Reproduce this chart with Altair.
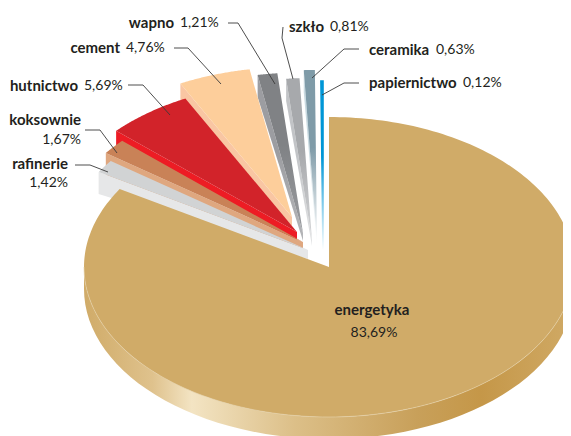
import math
import altair as alt
import pandas as pd

# ---- chart values ----
names = ["energetyka", "rafinerie", "koksownie", "hutnictwo", "cement", "wapno", "szkło", "ceramika", "papiernictwo"]
shares = [83.69, 1.42, 1.67, 5.69, 4.76, 1.21, 0.81, 0.63, 0.12]
share_labels = ["83,69%", "1,42%", "1,67%", "5,69%", "4,76%", "1,21%", "0,81%", "0,63%", "0,12%"]

# ---- styles / layout ----
top_colors = ["#D0AB68", "#D1D3D4", "#C98257", "#D2232A", "#FDCE9B", "#808285", "#A7A9AC", "#7F9BA8", "#0096D6"]
side_colors = ["#D0AB68", "#E6E7E8", "#DFA77F", "#ED1C24", "#F9C6A3", "#9C9DA1", "#C2C4C7", "#C9DAE1", "#0096D6"]
top_tip_colors = [None, None, None, None, None, "#9A9CA0", "#D5D6D8", "#FFFFFF", "#FFFFFF"]
side_tip_colors = [None, None, None, None, None, "#B5B6B9", "#E4E5E6", "#FFFFFF", "#FFFFFF"]
apex_x = [329, 308, 303, 297, 292, 303, 312, 317, 323]
apex_y = [267, 250, 242, 232, 217, 233, 240, 242, 250]
radius_scale = [1.0, 1.0, 1.0, 1.0, 1.0, 1.07, 1.08, 1.147, 1.127]
side_tip_depth = [0, 9, 7, 8, 9, 8, 6, 4, 4]
outline_width = [0, 0, 0, 0, 0, 0, 0, 0, 1.6]
RX, RY, DEPTH = 245.0, 150.0, 22.0
W, H = 555, 428
ORIGIN = 8


def px(x, y):
    return [x - ORIGIN, y - ORIGIN]


def arc_pts(cx, cy, rs, a0, a1, n=60, dy=0.0):
    out = []
    for i in range(n + 1):
        a = math.radians(a0 + (a1 - a0) * i / n)
        out.append((cx + RX * rs * math.sin(a), cy - RY * rs * math.cos(a) + dy))
    return out


def feature(pts):
    ring = [px(*p) for p in pts]
    ring.append(ring[0])
    return {"type": "Feature", "properties": {}, "geometry": {"type": "Polygon", "coordinates": [ring]}}


def shape(pts, fill, outline=0):
    if outline:
        mark = alt.Chart(alt.Data(values=[feature(pts)])).mark_geoshape(
            fill=fill, stroke=fill, strokeWidth=outline, clip=True)
    else:
        mark = alt.Chart(alt.Data(values=[feature(pts)])).mark_geoshape(
            fill=fill, strokeWidth=0, clip=True)
    return mark.project(type="identity", scale=1, translate=[0, 0])


def hairline(pts, color, width):
    geo = {"type": "Feature", "properties": {},
           "geometry": {"type": "LineString", "coordinates": [px(*p) for p in pts]}}
    return alt.Chart(alt.Data(values=[geo])).mark_geoshape(
        filled=False, stroke=color, strokeWidth=width, clip=True
    ).project(type="identity", scale=1, translate=[0, 0])


def fade(color, tip):
    if tip is None:
        return color
    return alt.LinearGradient(gradient="linear", x1=0, x2=0, y1=0, y2=1, stops=[
        alt.GradientStop(color=color, offset=0),
        alt.GradientStop(color=color, offset=0.45),
        alt.GradientStop(color=tip, offset=1),
    ])


layers = []
start = 0.0
spans = []
for s in shares:
    spans.append((start, start + s * 3.6))
    start += s * 3.6

# small slices, back to front
for i in range(len(names) - 1, 0, -1):
    a0, a1 = spans[i]
    ax, ay, rs = apex_x[i], apex_y[i], radius_scale[i]
    cl = arc_pts(ax, ay, rs, a0, a0, n=1)[0]
    if not outline_width[i]:
        side = [cl, (ax, ay), (ax, ay + side_tip_depth[i]), (cl[0], cl[1] + DEPTH)]
        layers.append(shape(side, fade(side_colors[i], side_tip_colors[i])))
    layers.append(shape([(ax, ay)] + arc_pts(ax, ay, rs, a0, a1), fade(top_colors[i], top_tip_colors[i]), outline_width[i]))

# energetyka rim and top face
rim = arc_pts(apex_x[0], apex_y[0], 1, 90, 270) + arc_pts(apex_x[0], apex_y[0], 1, 270, 90, dy=DEPTH)
rim_fill = alt.LinearGradient(gradient="linear", x1=0, x2=1, y1=0, y2=0, stops=[
    alt.GradientStop(color="#D0AB68", offset=0),
    alt.GradientStop(color="#DFC28D", offset=0.14),
    alt.GradientStop(color="#F3E4C3", offset=0.22),
    alt.GradientStop(color="#DCBF88", offset=0.43),
    alt.GradientStop(color="#C8A05A", offset=0.68),
    alt.GradientStop(color="#C59748", offset=0.81),
    alt.GradientStop(color="#D0AA66", offset=1),
])
layers.append(shape(rim, rim_fill))
layers.append(shape([(apex_x[0], apex_y[0])] + arc_pts(apex_x[0], apex_y[0], 1, spans[0][0], spans[0][1], n=240), top_colors[0]))
layers.append(hairline(arc_pts(apex_x[0], apex_y[0], 1, 90, 270, n=120), "#E6D3AC", 0.6))

# ---- leader lines ----
leaders = [
    [(228, 23), (238, 23), (275, 84)],
    [(283, 27), (282, 38), (293, 79)],
    [(359, 49), (344, 49), (312, 78)],
    [(359, 83), (344, 83), (322, 95)],
    [(174, 48), (188, 48), (221, 84)],
    [(128, 85), (143, 85), (170, 115)],
    [(85, 130), (100, 130), (117, 153)],
    [(75, 165), (90, 165), (108, 172)],
]
rows = []
for k, line in enumerate(leaders):
    for j, (x, y) in enumerate(line):
        rows.append({"k": k, "j": j, "x": x - ORIGIN, "y": y - ORIGIN})
xs = alt.Scale(domain=[0, W], range=[0, W])
ys = alt.Scale(domain=[0, H], range=[0, H])
lines = alt.Chart(pd.DataFrame(rows)).mark_line(color="#3a3a3a", strokeWidth=0.9).encode(
    x=alt.X("x:Q", scale=xs, axis=None),
    y=alt.Y("y:Q", scale=ys, axis=None),
    detail="k:N", order="j:Q")

# ---- labels ----
FONT = "Lato"
COL = "#231F20"
bold_rows = []
reg_rows = []


def add(i, x_name, y_name, x_val, y_val, align_name="left", align_val="left"):
    bold_rows.append({"t": names[i], "x": x_name - ORIGIN, "y": y_name - ORIGIN, "a": align_name})
    reg_rows.append({"t": share_labels[i], "x": x_val - ORIGIN, "y": y_val - ORIGIN, "a": align_val})


add(5, 174, 23, 180, 23, "right", "left")
add(6, 289, 27, 330, 27)
add(7, 369, 50, 436, 50)
add(8, 369, 83, 463, 83)
add(4, 120, 48, 126, 48, "right", "left")
add(3, 78, 86, 84, 86, "right", "left")
add(2, 81, 120, 81, 140, "right", "right")
add(1, 68, 164, 68, 183, "right", "right")
add(0, 372, 310, 374, 333, "center", "center")


def text_layer(rows_, weight, size):
    out = []
    for a in ("left", "right", "center"):
        sub = [r for r in rows_ if r["a"] == a]
        if sub:
            out.append(alt.Chart(pd.DataFrame(sub)).mark_text(
                font=FONT, fontSize=size, fontWeight=weight, color=COL, align=a, baseline="middle"
            ).encode(x=alt.X("x:Q", scale=xs, axis=None), y=alt.Y("y:Q", scale=ys, axis=None), text="t:N"))
    return out


chart = alt.layer(*layers, lines, *text_layer(bold_rows, "bold", 15), *text_layer(reg_rows, "normal", 14)).resolve_scale(
    x="shared", y="shared"
).properties(
    width=W, height=H, padding=0, background="white",
    autosize=alt.AutoSizeParams(type="none")
).configure_view(stroke=None)

chart.save("out.html", embed_options={"renderer": "svg", "actions": False})
